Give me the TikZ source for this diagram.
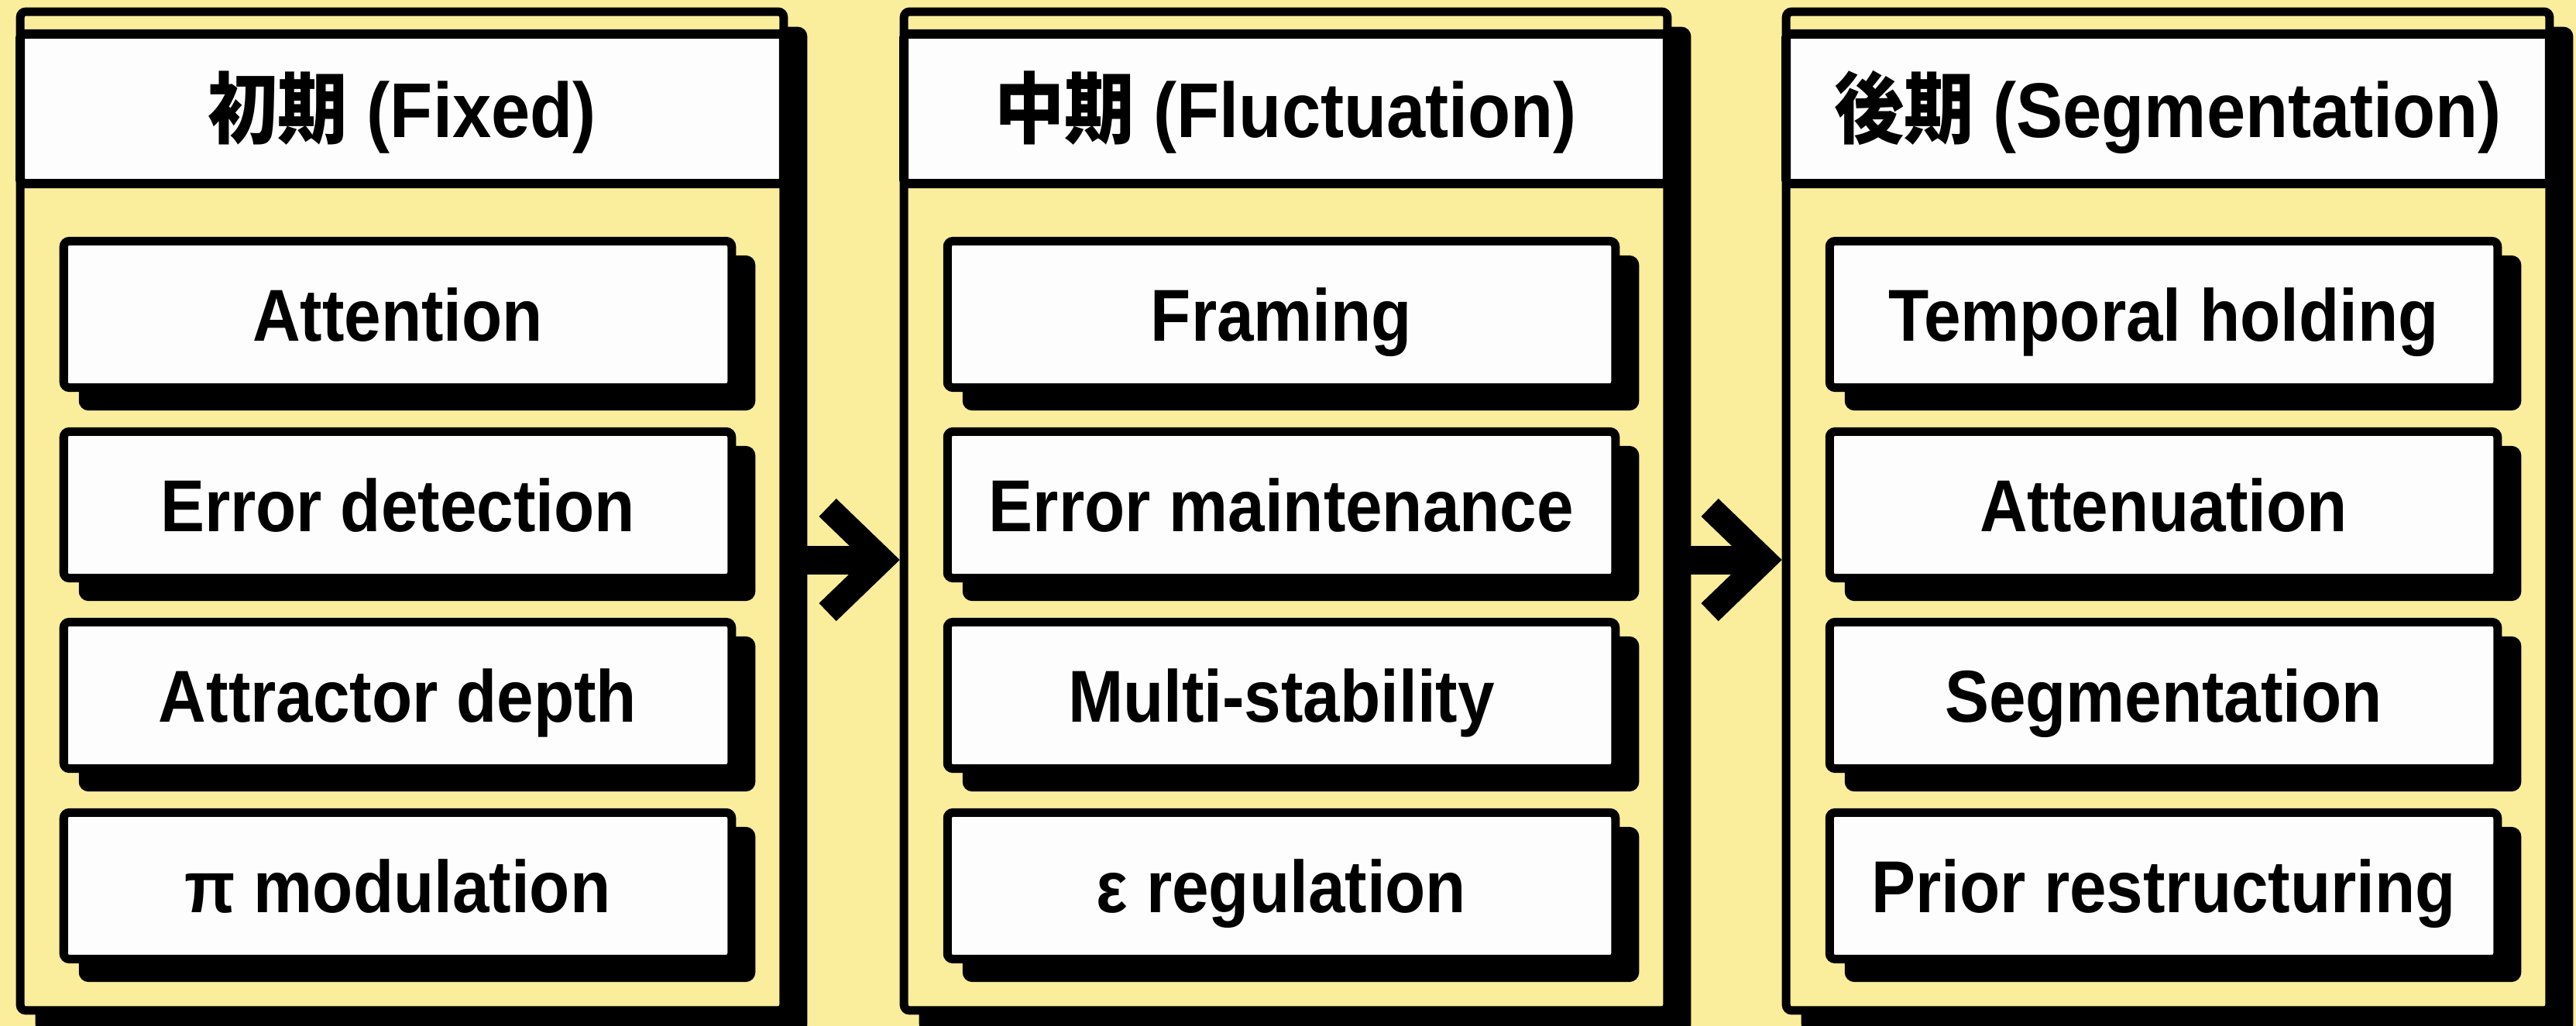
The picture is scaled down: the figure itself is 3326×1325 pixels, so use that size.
\documentclass[tikz,border=0pt]{standalone}
\usepackage{fontspec}
\setmainfont{Liberation Sans}[FakeStretch=0.9]
\newfontfamily\cjk{Noto Sans CJK JP}[FakeStretch=0.9]
\usetikzlibrary{shadows,arrows.meta}
\definecolor{bgyellow}{RGB}{250,237,156}
\definecolor{paper}{RGB}{253,253,253}
\tikzset{
  panelbox/.style={draw=black, fill=bgyellow, line width=0.11cm, rounded corners=0.07cm,
    minimum width=9.85cm, minimum height=12.89cm, inner sep=0pt,
    drop shadow={shadow xshift=0.25cm, shadow yshift=-0.25cm, fill=black, draw=black, opacity=1}},
  headbox/.style={draw=black, fill=paper, line width=0.12cm, rounded corners=0.05cm,
    minimum width=9.85cm, minimum height=1.93cm, inner sep=0pt,
    text height=0.73cm, text depth=0pt,
    font=\bfseries\fontsize{28.5}{32}\selectfont},
  itembox/.style={draw=black, fill=paper, line width=0.11cm, rounded corners=0.07cm,
    minimum width=8.62cm, minimum height=1.89cm, inner sep=0pt,
    text height=0.69cm, text depth=0pt,
    font=\bfseries\fontsize{27}{30}\selectfont,
    drop shadow={shadow xshift=0.25cm, shadow yshift=-0.24cm, fill=black, draw=black, opacity=1}},
  flowarrow/.style={draw=black, line width=0.37cm,
    -{Straight Barb[length=0.7cm, width=1.35cm, line width=0.32cm, sharp]}}
}
\begin{document}
\begin{tikzpicture}[x=0.01cm, y=-0.01cm]
\fill[bgyellow] (0,0) rectangle (3326,1325);
\useasboundingbox (0,0) rectangle (3326,1325);

% Panel 1
\node[panelbox] (p1) at (519,660) {};
\node[headbox] (h1) at (519,140.5) {{\cjk 初期} (Fixed)};
\node[itembox] (a1) at (513.5,406) {Attention};
\node[itembox] (a2) at (513.5,652) {Error detection};
\node[itembox] (a3) at (513.5,898) {Attractor depth};
\node[itembox] (a4) at (513.5,1144) {π modulation};

% Panel 2
\node[panelbox] (p2) at (1660,660) {};
\node[headbox] (h2) at (1660,140.5) {{\cjk 中期} (Fluctuation)};
\node[itembox] (b1) at (1654.5,406) {Framing};
\node[itembox] (b2) at (1654.5,652) {Error maintenance};
\node[itembox] (b3) at (1654.5,898) {Multi-stability};
\node[itembox] (b4) at (1654.5,1144) {ε regulation};

% Panel 3
\node[panelbox] (p3) at (2799,660) {};
\node[headbox] (h3) at (2799,140.5) {{\cjk 後期} (Segmentation)};
\node[itembox] (c1) at (2793.5,406) {Temporal holding};
\node[itembox] (c2) at (2793.5,652) {Attenuation};
\node[itembox] (c3) at (2793.5,898) {Segmentation};
\node[itembox] (c4) at (2793.5,1144) {Prior restructuring};

% Arrows
\draw[flowarrow] ([yshift=-0.63cm]p1.east) -- ([yshift=-0.63cm]p2.west);
\draw[flowarrow] ([yshift=-0.63cm]p2.east) -- ([yshift=-0.63cm]p3.west);
\end{tikzpicture}
\end{document}
